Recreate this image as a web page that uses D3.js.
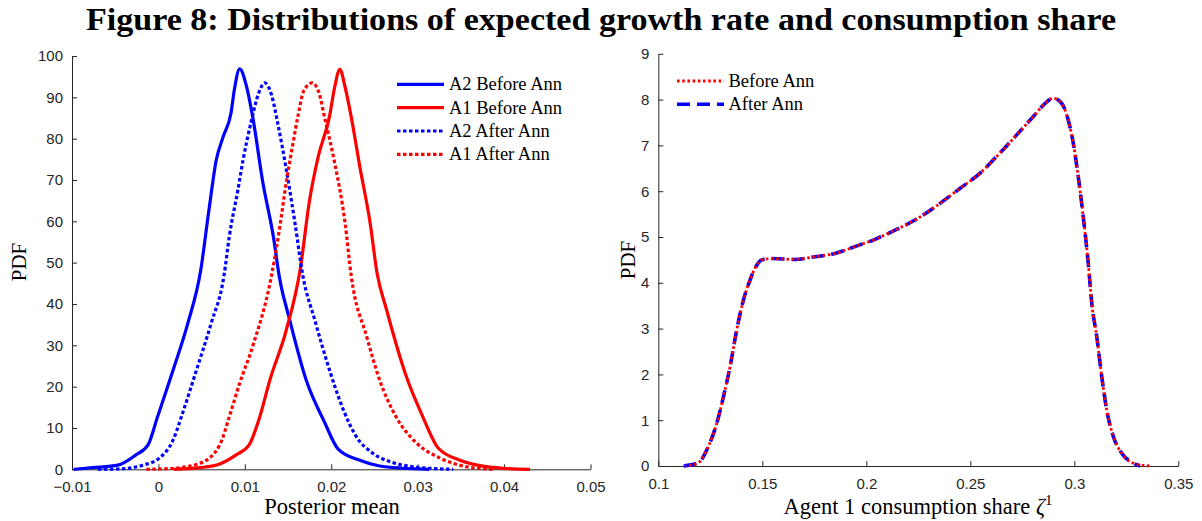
<!DOCTYPE html>
<html>
<head>
<meta charset="utf-8">
<script src="https://cdn.jsdelivr.net/npm/d3@7"></script>
<style>
    body { margin: 0; background: #fff; }
    .tick text { font-family: "Liberation Sans", Arial, sans-serif; font-size: 15px; fill: #262626; }
    .axis path, .axis line { stroke: #262626; stroke-width: 1; }
    .lbl { font-family: "Liberation Serif", "Times New Roman", serif; fill: #000; }
</style>
</head>
<body>
<div class="chart"></div>
<script>
// posterior mean densities, [x, pdf]
var a2Before = [[-0.0098, 0], [-0.0076, 0.4], [-0.0047, 1.0], [-0.0026, 3.5], [-0.0012, 5.9], [-0.0001, 12.7],
    [0.0017, 24], [0.0034, 35.3], [0.0049, 48.2], [0.0058, 62], [0.0067, 74.9], [0.0075, 80.5], [0.0084, 86.2],
    [0.0088, 92], [0.0094, 96.9], [0.0102, 92.6], [0.0109, 85.4], [0.0121, 69.2], [0.0133, 56.3], [0.0140, 46.5],
    [0.0152, 36.1], [0.0171, 21.6], [0.0192, 11.5], [0.0208, 4.9], [0.0233, 2.2], [0.0256, 0.8], [0.0283, 0.25],
    [0.0313, 0]];
var a1Before = [[0.0018, 0], [0.0048, 0.4], [0.0071, 1.3], [0.0090, 3.5], [0.0105, 5.9], [0.0117, 12.5],
    [0.0129, 21.6], [0.0148, 33.7], [0.0164, 48.3], [0.0175, 65.2], [0.0185, 75.7], [0.0198, 85.4], [0.0204, 92.5],
    [0.0210, 96.8], [0.0216, 92.5], [0.0223, 85.4], [0.0233, 73.3], [0.0245, 59.6], [0.0253, 47.5], [0.0264, 38.6],
    [0.0287, 22.4], [0.0306, 12.7], [0.0324, 5.1], [0.0349, 2.2], [0.0372, 0.9], [0.0399, 0.24], [0.0430, 0]];
var a2After = [[-0.0070, 0], [-0.0045, 0.1], [-0.0018, 1.0], [0.0001, 2.7], [0.0017, 7.1], [0.0028, 13.6],
    [0.0044, 24], [0.0061, 35.3], [0.0076, 47], [0.0082, 56.3], [0.0092, 67.6], [0.0098, 74.9], [0.0107, 83.8],
    [0.0116, 91], [0.0123, 93.5], [0.0131, 90.5], [0.0138, 83.8], [0.0148, 72.5], [0.0158, 59.6], [0.0167, 47],
    [0.0181, 36.1], [0.0198, 24], [0.0214, 14.4], [0.0229, 7.9], [0.0248, 3.9], [0.0272, 1.6], [0.0299, 0.5],
    [0.0341, 0]];
var a1After = [[-0.0014, 0], [0.0017, 0.24], [0.0048, 1.45], [0.0071, 5.9], [0.0082, 12.7], [0.0094, 20.8],
    [0.0109, 29.7], [0.0131, 47], [0.0140, 58], [0.0148, 69.5], [0.0155, 78], [0.0162, 86], [0.0168, 91.5],
    [0.0178, 93.5], [0.0186, 91], [0.0192, 85.4], [0.0204, 74.1], [0.0216, 59.6], [0.0223, 47], [0.0241, 32.1],
    [0.0256, 21.6], [0.0275, 12.7], [0.0299, 6.3], [0.0326, 2.7], [0.0357, 0.6], [0.0387, 0]];

// consumption share densities, [share, pdf]
var shareBefore = [[0.1130, 0], [0.1192, 0.07], [0.1240, 0.42], [0.1281, 0.93], [0.1313, 1.51], [0.1345, 2.17],
    [0.1377, 2.97], [0.1409, 3.62], [0.1441, 4.06], [0.1465, 4.32], [0.1497, 4.5], [0.1545, 4.53], [0.1600, 4.52],
    [0.1657, 4.51], [0.1753, 4.57], [0.1849, 4.64], [0.1945, 4.79], [0.2042, 4.95], [0.2138, 5.15], [0.2234, 5.37],
    [0.2322, 5.63], [0.2450, 6.06], [0.2546, 6.39], [0.2642, 6.83], [0.2723, 7.23], [0.2803, 7.63], [0.2851, 7.88],
    [0.2899, 8.03], [0.2939, 7.92], [0.2971, 7.55], [0.2995, 7.05], [0.3019, 6.32], [0.3043, 5.44], [0.3067, 4.43],
    [0.3084, 3.55], [0.3108, 2.82], [0.3132, 1.95], [0.3156, 1.22], [0.3188, 0.64], [0.3228, 0.28], [0.3284, 0.06],
    [0.3364, 0]];
var shareAfter = [[0.1122, 0], [0.1192, 0.07], [0.1240, 0.42], [0.1281, 0.93], [0.1313, 1.51], [0.1345, 2.17],
    [0.1377, 2.97], [0.1409, 3.62], [0.1441, 4.06], [0.1465, 4.32], [0.1497, 4.5], [0.1545, 4.53], [0.1600, 4.52],
    [0.1657, 4.51], [0.1753, 4.57], [0.1849, 4.64], [0.1945, 4.79], [0.2042, 4.95], [0.2138, 5.15], [0.2234, 5.37],
    [0.2322, 5.63], [0.2450, 6.06], [0.2546, 6.39], [0.2642, 6.83], [0.2723, 7.23], [0.2803, 7.63], [0.2851, 7.88],
    [0.2899, 8.03], [0.2939, 7.92], [0.2971, 7.55], [0.2995, 7.05], [0.3019, 6.32], [0.3043, 5.44], [0.3067, 4.43],
    [0.3084, 3.55], [0.3108, 2.82], [0.3132, 1.95], [0.3156, 1.22], [0.3188, 0.64], [0.3228, 0.28], [0.3284, 0.06],
    [0.3316, 0]];

// ticks
var leftXTicks = [-0.01, 0, 0.01, 0.02, 0.03, 0.04, 0.05];
var leftYTicks = [0, 10, 20, 30, 40, 50, 60, 70, 80, 90, 100];
var rightXTicks = [0.1, 0.15, 0.2, 0.25, 0.3, 0.35];
var rightYTicks = [0, 1, 2, 3, 4, 5, 6, 7, 8, 9];

var leftNames = ["A2 Before Ann", "A1 Before Ann", "A2 After Ann", "A1 After Ann"];
var rightNames = ["Before Ann", "After Ann"];

var width = 1202, height = 521;

var svg = d3.select(".chart").append("svg")
    .attr("width", width)
    .attr("height", height);

// title
svg.append("text")
    .attr("x", 601)
    .attr("y", 30)
    .attr("text-anchor", "middle")
    .attr("textLength", 1030)
    .attr("lengthAdjust", "spacingAndGlyphs")
    .style("font-family", "'Liberation Serif', serif")
    .style("font-weight", "bold")
    .style("font-size", "31px")
    .text("Figure 8: Distributions of expected growth rate and consumption share");

var fmt = function (d) { return d3.format("")(+d.toFixed(2)); };

function drawAxes(x, y, xTicks, yTicks) {
    svg.append("g")
        .attr("class", "axis")
        .attr("transform", "translate(0," + y.range()[0] + ")")
        .call(d3.axisBottom(x).tickValues(xTicks).tickFormat(fmt)
            .tickSizeInner(-5).tickSizeOuter(0).tickPadding(12));
    svg.append("g")
        .attr("class", "axis")
        .attr("transform", "translate(" + x.range()[0] + ",0)")
        .call(d3.axisLeft(y).tickValues(yTicks).tickFormat(fmt)
            .tickSizeInner(-5).tickSizeOuter(0).tickPadding(9));
}

// left panel
var xL = d3.scaleLinear().domain([-0.01, 0.05]).range([72, 590.5]);
var yL = d3.scaleLinear().domain([0, 100]).range([469.3, 56]);
drawAxes(xL, yL, leftXTicks, leftYTicks);

var lineL = d3.line()
    .x(function (d) { return xL(d[0]); })
    .y(function (d) { return yL(d[1]); })
    .curve(d3.curveMonotoneX);

var leftSeries = [
    { data: a2Before, color: "#0000ff", dash: null },
    { data: a1Before, color: "#ff0000", dash: null },
    { data: a2After, color: "#0000ff", dash: "3.5,2.5" },
    { data: a1After, color: "#ff0000", dash: "3.5,2.5" }
];

leftSeries.forEach(function (s) {
    svg.append("path")
        .attr("d", lineL(s.data))
        .attr("fill", "none")
        .attr("stroke", s.color)
        .attr("stroke-width", 3.2)
        .attr("stroke-dasharray", s.dash);
});

// left legend
var legendL = svg.selectAll(".legendL")
    .data(leftSeries)
    .enter().append("g")
    .attr("class", "legendL")
    .attr("transform", function (d, i) {
        return "translate(0," + (84.3 + i * 23.35) + ")";
    });

legendL.append("line")
    .attr("x1", 397).attr("x2", 444)
    .attr("stroke", function (d) { return d.color; })
    .attr("stroke-width", 3.2)
    .attr("stroke-dasharray", function (d) { return d.dash; });

legendL.append("text")
    .attr("class", "lbl")
    .attr("x", 449)
    .attr("y", 6)
    .style("font-size", "18.5px")
    .text(function (d, i) { return leftNames[i]; });

svg.append("text")
    .attr("class", "lbl")
    .attr("x", 332)
    .attr("y", 514)
    .attr("text-anchor", "middle")
    .style("font-size", "22.5px")
    .text("Posterior mean");

svg.append("text")
    .attr("class", "lbl")
    .attr("transform", "translate(26," + 262 + ") rotate(-90)")
    .attr("text-anchor", "middle")
    .style("font-size", "21px")
    .text("PDF");

// right panel
var xR = d3.scaleLinear().domain([0.1, 0.35]).range([658.3, 1178.3]);
var yR = d3.scaleLinear().domain([0, 9]).range([466, 53.8]);
drawAxes(xR, yR, rightXTicks, rightYTicks);

var lineR = d3.line()
    .x(function (d) { return xR(d[0]); })
    .y(function (d) { return yR(d[1]); })
    .curve(d3.curveMonotoneX);

var rightSeries = [
    { data: shareBefore, color: "#ff0000", dash: "2.6,2.6", w: 2.8 },
    { data: shareAfter, color: "#0000ff", dash: "13,7", w: 3.6 }
];

// after drawn underneath, before (dotted) on top
svg.append("path")
    .attr("d", lineR(shareAfter))
    .attr("fill", "none")
    .attr("stroke", rightSeries[1].color)
    .attr("stroke-width", rightSeries[1].w)
    .attr("stroke-dasharray", rightSeries[1].dash);

svg.append("path")
    .attr("d", lineR(shareBefore))
    .attr("fill", "none")
    .attr("stroke", rightSeries[0].color)
    .attr("stroke-width", rightSeries[0].w)
    .attr("stroke-dasharray", rightSeries[0].dash)
    .attr("stroke-dashoffset", 1.5);

var legendR = svg.selectAll(".legendR")
    .data(rightSeries)
    .enter().append("g")
    .attr("class", "legendR")
    .attr("transform", function (d, i) {
        return "translate(0," + (81 + i * 23.3) + ")";
    });

legendR.append("line")
    .attr("x1", 677).attr("x2", 724)
    .attr("stroke", function (d) { return d.color; })
    .attr("stroke-width", function (d) { return d.w; })
    .attr("stroke-dasharray", function (d) { return d.dash; });

legendR.append("text")
    .attr("class", "lbl")
    .attr("x", 728.5)
    .attr("y", 6)
    .style("font-size", "18.5px")
    .text(function (d, i) { return rightNames[i]; });

var xlab = svg.append("text")
    .attr("class", "lbl")
    .attr("x", 918)
    .attr("y", 514)
    .attr("text-anchor", "middle")
    .style("font-size", "22.5px");
xlab.append("tspan").text("Agent 1 consumption share ");
xlab.append("tspan").style("font-style", "italic").text("ζ");
xlab.append("tspan").attr("dy", -9).style("font-size", "15px").text("1");

svg.append("text")
    .attr("class", "lbl")
    .attr("transform", "translate(635," + 260 + ") rotate(-90)")
    .attr("text-anchor", "middle")
    .style("font-size", "21px")
    .text("PDF");
</script>
</body>
</html>
